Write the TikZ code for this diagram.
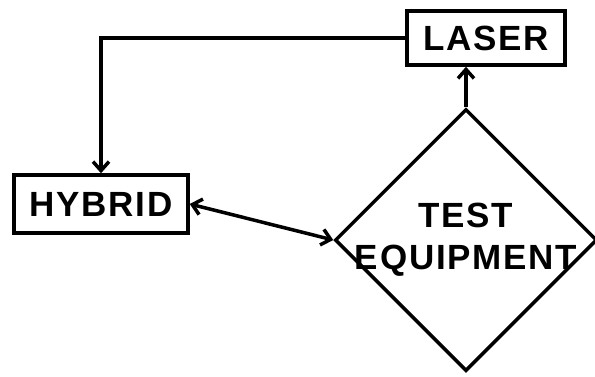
\documentclass[tikz,border=0pt]{standalone}
\usepackage{fontspec}
\setmainfont{Liberation Sans}[LetterSpace=5]
\usetikzlibrary{arrows.meta,positioning,shapes.geometric}
\tikzset{
  unit/.style={rectangle,draw,line width=3.5pt,minimum height=54pt,inner sep=2pt,font=\fontsize{35}{42}\selectfont\bfseries},
  decision/.style={diamond,draw,line width=3.5pt,minimum width=262pt,minimum height=262pt,aspect=1,inner sep=-14pt,align=center,font=\fontsize{35}{42}\selectfont\bfseries}
}
\begin{document}
\begin{tikzpicture}[x=1pt,y=-1pt,>={Straight Barb[length=9pt,width=16pt]},line width=3.5pt]
  \useasboundingbox (0,0) rectangle (595,376);
  \node[unit,minimum width=158pt] (L) at (486,38) {LASER};
  \node[unit,minimum width=174pt,minimum height=58pt] (H) at (101,204) {HYBRID};
  \node[decision] (T) at (466,240) {TEST\\EQUIPMENT};
  \draw[->] (L.west) -| (H.north);
  \draw[->] (T.north) -- (T.north |- L.south);
  \draw[<->] (H.east) -- (T.west);
\end{tikzpicture}
\end{document}
